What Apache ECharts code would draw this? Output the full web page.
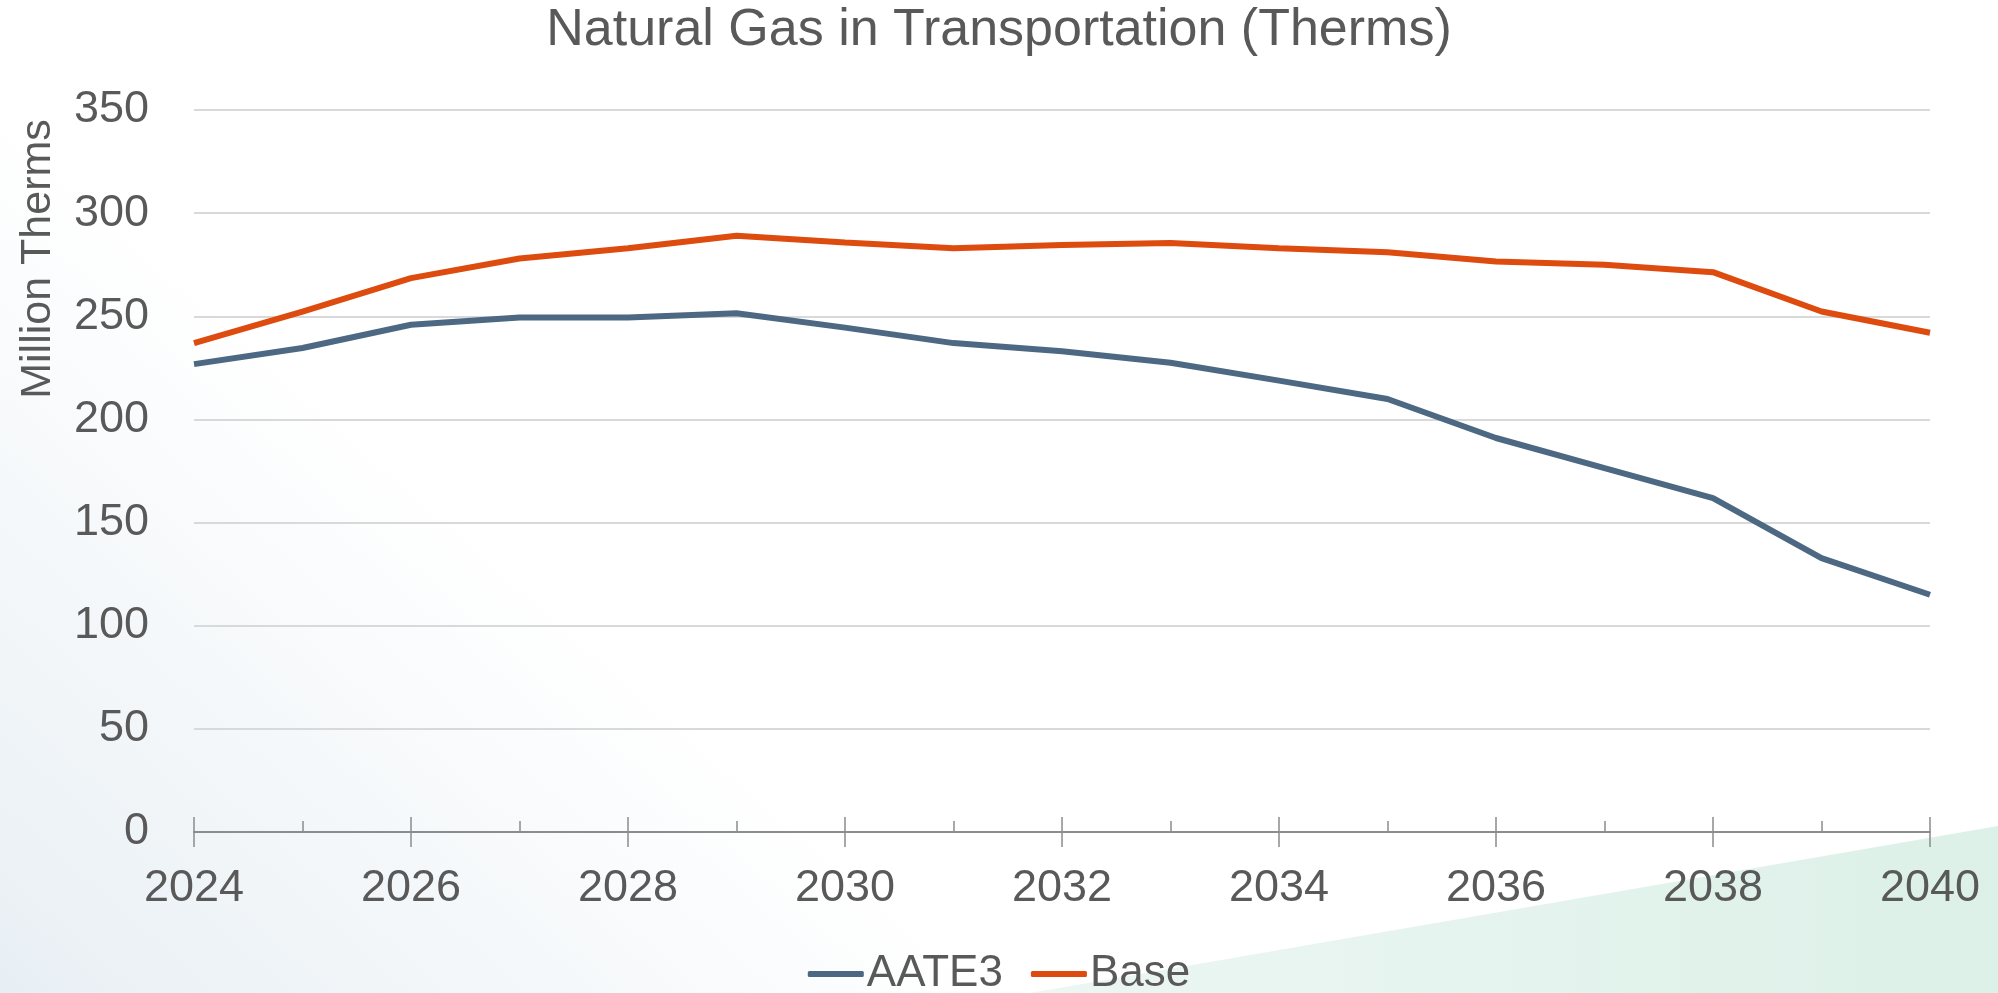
<!DOCTYPE html>
<html lang="en">
<head>
    <meta charset="UTF-8">
    <title>Natural Gas in Transportation</title>
    <script src="https://cdn.jsdelivr.net/npm/echarts@6/dist/echarts.min.js"></script>
    <style>
        html, body { margin: 0; padding: 0; background: #ffffff; }
        #main { width: 1998px; height: 993px; }
    </style>
</head>
<body>
<div id="main"></div>
<script type="text/javascript">
    var years = [2024, 2025, 2026, 2027, 2028, 2029, 2030, 2031, 2032, 2033, 2034, 2035, 2036, 2037, 2038, 2039, 2040];
    var aate3 = [226.8, 234.6, 245.9, 249.4, 249.4, 251.5, 244.5, 237.0, 233.0, 227.5, 218.8, 209.9, 191.0, 176.4, 161.9, 132.8, 115.0];
    var base = [237.0, 252.3, 268.5, 278.0, 283.0, 289.0, 285.8, 283.0, 284.5, 285.5, 283.0, 281.0, 276.6, 275.0, 271.4, 252.3, 242.0];
    var seriesNames = ['AATE3', 'Base'];

    var font = 'Liberation Sans, Arial, sans-serif';
    var textColor = '#595959';

    function pairs(vals) {
        return years.map(function (y, i) { return [y, vals[i]]; });
    }

    var myChart = echarts.init(document.getElementById('main'));
    var option = {
        backgroundColor: '#ffffff',
        textStyle: { fontFamily: font },
        title: {
            text: 'Natural Gas in Transportation (Therms)',
            left: 'center',
            top: 0,
            textStyle: { fontSize: 52, fontWeight: 'normal', color: textColor, fontFamily: font }
        },
        legend: {
            data: seriesNames,
            left: 'center',
            top: 952,
            padding: 0,
            icon: 'roundRect',
            itemWidth: 56,
            itemHeight: 6,
            itemGap: 28,
            textStyle: { fontSize: 44, color: textColor, fontFamily: font, padding: [0, 0, 0, -2] }
        },
        graphic: [
            {
                type: 'rect', z: -10, silent: true,
                shape: { x: 0, y: 0, width: 1998, height: 993 },
                style: {
                    fill: new echarts.graphic.LinearGradient(0, 1, 0.22, 0.5, [
                        { offset: 0, color: '#e8eff4' },
                        { offset: 1, color: '#ffffff' }
                    ])
                }
            },
            {
                type: 'polygon', z: -9, silent: true,
                shape: { points: [[-80, 0], [1998, 0], [1998, 993], [1960, 993]] },
                style: { fill: 'rgba(255,255,255,0.7)' }
            },
            {
                type: 'polygon', z: -8, silent: true,
                shape: { points: [[1030, 993], [1998, 826], [1998, 993]] },
                style: {
                    fill: new echarts.graphic.LinearGradient(0, 0, 1, 0, [
                        { offset: 0, color: 'rgba(214,236,228,0.45)' },
                        { offset: 1, color: 'rgba(214,238,228,0.85)' }
                    ])
                }
            },
            {
                type: 'text', silent: true,
                x: 38, y: 259, rotation: Math.PI / 2,
                style: {
                    text: 'Million Therms',
                    fontSize: 43, fontFamily: font, fill: textColor,
                    align: 'center', verticalAlign: 'middle'
                }
            }
        ],
        grid: {
            left: 194, right: 68, top: 110, bottom: 161,
            containLabel: false,
            outerBoundsMode: 'none'
        },
        xAxis: [
            {
                type: 'value', min: 2024, max: 2040, interval: 2,
                position: 'bottom',
                axisLine: { show: true, lineStyle: { color: '#8c8c8c', width: 2 } },
                axisTick: { show: true, inside: true, length: 15, lineStyle: { color: '#8c8c8c', width: 1.5 } },
                minorTick: { show: true, splitNumber: 2, length: 11, lineStyle: { color: '#8c8c8c', width: 1.5 } },
                splitLine: { show: false },
                axisLabel: {
                    fontSize: 45, color: textColor, fontFamily: font, margin: 34,
                    formatter: function (v) { return String(v); }
                }
            },
            {
                type: 'value', min: 2024, max: 2040, interval: 2,
                position: 'bottom', offset: 0,
                axisLine: { show: false },
                axisTick: { show: true, inside: false, length: 15, lineStyle: { color: '#8c8c8c', width: 1.5 } },
                splitLine: { show: false },
                axisLabel: { show: false }
            }
        ],
        yAxis: {
            type: 'value', min: 0, max: 350, interval: 50,
            axisLine: { show: false },
            axisTick: { show: false },
            splitLine: { lineStyle: { color: '#d9d9d9', width: 2 } },
            axisLabel: { fontSize: 45, color: textColor, fontFamily: font, margin: 45 }
        },
        series: [
            {
                name: seriesNames[0], type: 'line', xAxisIndex: 0,
                data: pairs(aate3),
                showSymbol: false, symbol: 'none',
                lineStyle: { color: '#4d6882', width: 6 },
                itemStyle: { color: '#4d6882' }
            },
            {
                name: seriesNames[1], type: 'line', xAxisIndex: 0,
                data: pairs(base),
                showSymbol: false, symbol: 'none',
                lineStyle: { color: '#dd4b0e', width: 6 },
                itemStyle: { color: '#dd4b0e' }
            }
        ]
    };
    myChart.setOption(option);
</script>
</body>
</html>
